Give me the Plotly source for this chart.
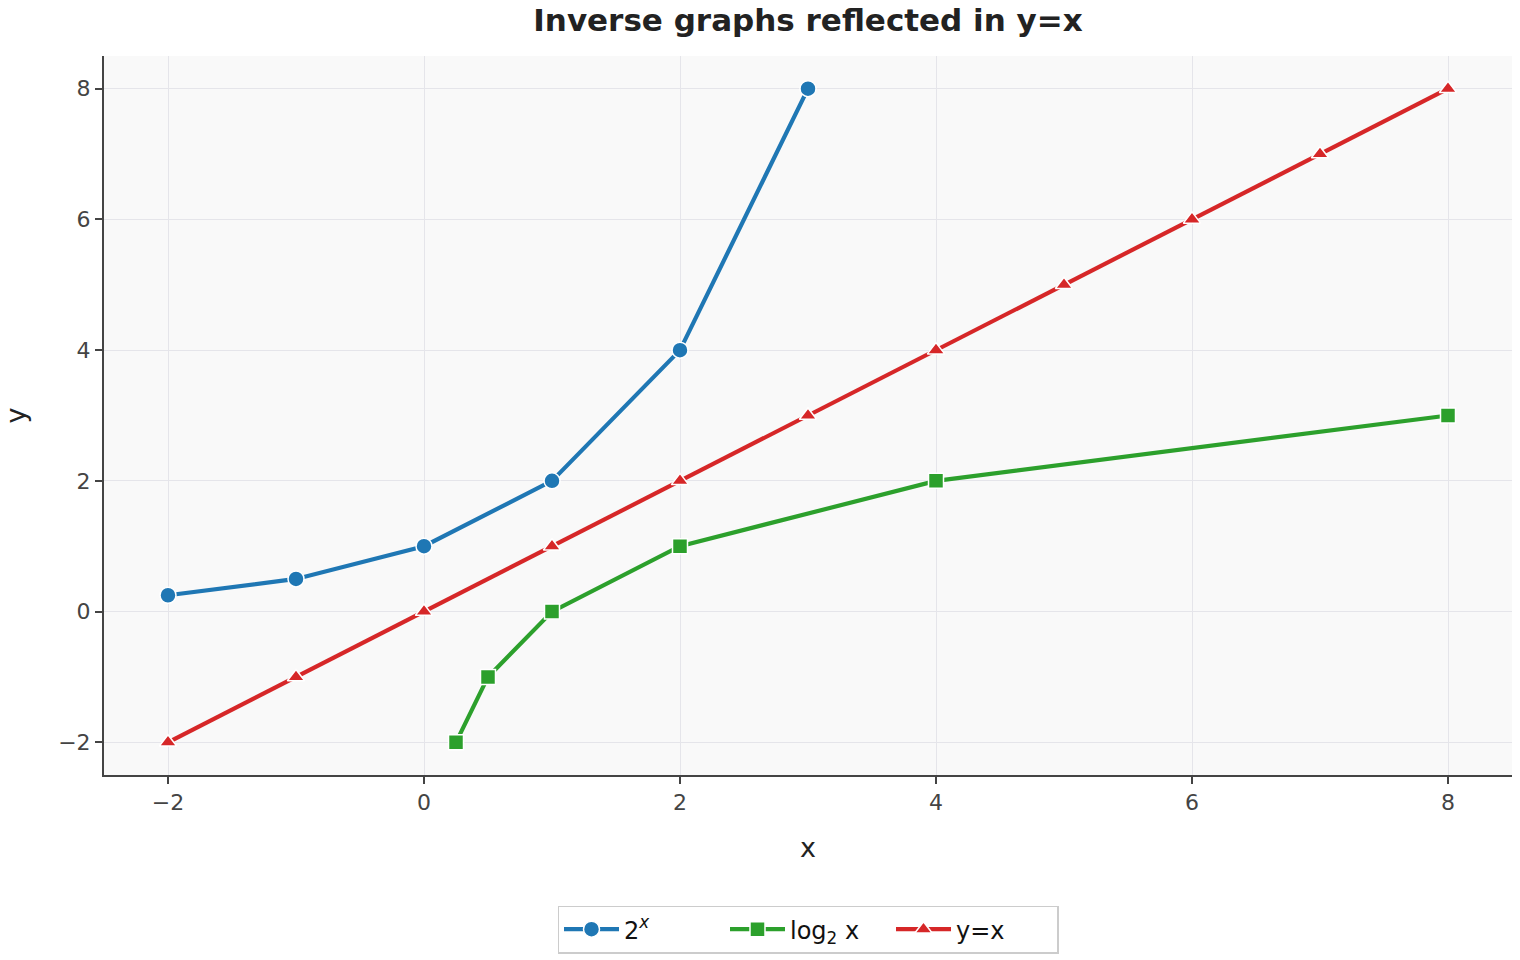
import plotly.graph_objects as go

exp_x = [-2, -1, 0, 1, 2, 3]
exp_y = [0.25, 0.5, 1, 2, 4, 8]
log_x = [0.25, 0.5, 1, 2, 4, 8]
log_y = [-2, -1, 0, 1, 2, 3]
id_x = [-2, -1, 0, 1, 2, 3, 4, 5, 6, 7, 8]
id_y = [-2, -1, 0, 1, 2, 3, 4, 5, 6, 7, 8]
tick_vals = [-2, 0, 2, 4, 6, 8]
tick_text = ["\u22122", "0", "2", "4", "6", "8"]

fig = go.Figure()
fig.add_trace(go.Scatter(x=exp_x, y=exp_y, mode="lines+markers", name="2<sup><i>x</i></sup>",
                         line=dict(color="#1f77b4", width=4.2),
                         marker=dict(symbol="circle", size=16, color="#1f77b4", line=dict(color="white", width=1.5))))
fig.add_trace(go.Scatter(x=log_x, y=log_y, mode="lines+markers", name="log<sub>2</sub> x",
                         line=dict(color="#2ca02c", width=4.2),
                         marker=dict(symbol="square", size=15, color="#2ca02c", line=dict(color="white", width=1.5))))
fig.add_trace(go.Scatter(x=id_x, y=id_y, mode="lines+markers", name="y=x",
                         line=dict(color="#d62728", width=4.2),
                         marker=dict(symbol="triangle-up", size=15, color="#d62728", line=dict(color="white", width=1.5))))

axis_common = dict(
    showgrid=True, gridcolor="#e5e5ea", gridwidth=1,
    showline=True, linecolor="#444444", linewidth=2,
    ticks="outside", ticklen=7, tickwidth=1.5, tickcolor="#444444",
    tickfont=dict(size=22, color="#444444"),
    zeroline=False, mirror=False,
)

fig.update_layout(
    width=1520, height=960,
    margin=dict(l=104, r=8, t=56, b=184),
    paper_bgcolor="white", plot_bgcolor="#f9f9f9",
    font=dict(family="DejaVu Sans", color="#222222"),
    title=dict(text="<b>Inverse graphs reflected in y=x</b>", x=0.5316, xanchor="center",
               y=0.979, yanchor="middle", font=dict(size=31, color="#222222")),
    xaxis=dict(range=[-2.5, 8.5], tickvals=tick_vals, ticktext=tick_text,
               title=dict(text="x", font=dict(size=27, color="#222222"), standoff=24), **axis_common),
    yaxis=dict(range=[-2.5, 8.5], tickvals=tick_vals, ticktext=tick_text,
               title=dict(text="y", font=dict(size=27, color="#222222"), standoff=28), **axis_common),
    legend=dict(orientation="h", x=0.5, xanchor="center", y=-0.18, yanchor="top",
                bgcolor="white", bordercolor="#cccccc", borderwidth=1.5,
                font=dict(size=24, color="#111111"), itemwidth=55,
                entrywidthmode="pixels", entrywidth=96),
)

fig.write_html("out.html")
